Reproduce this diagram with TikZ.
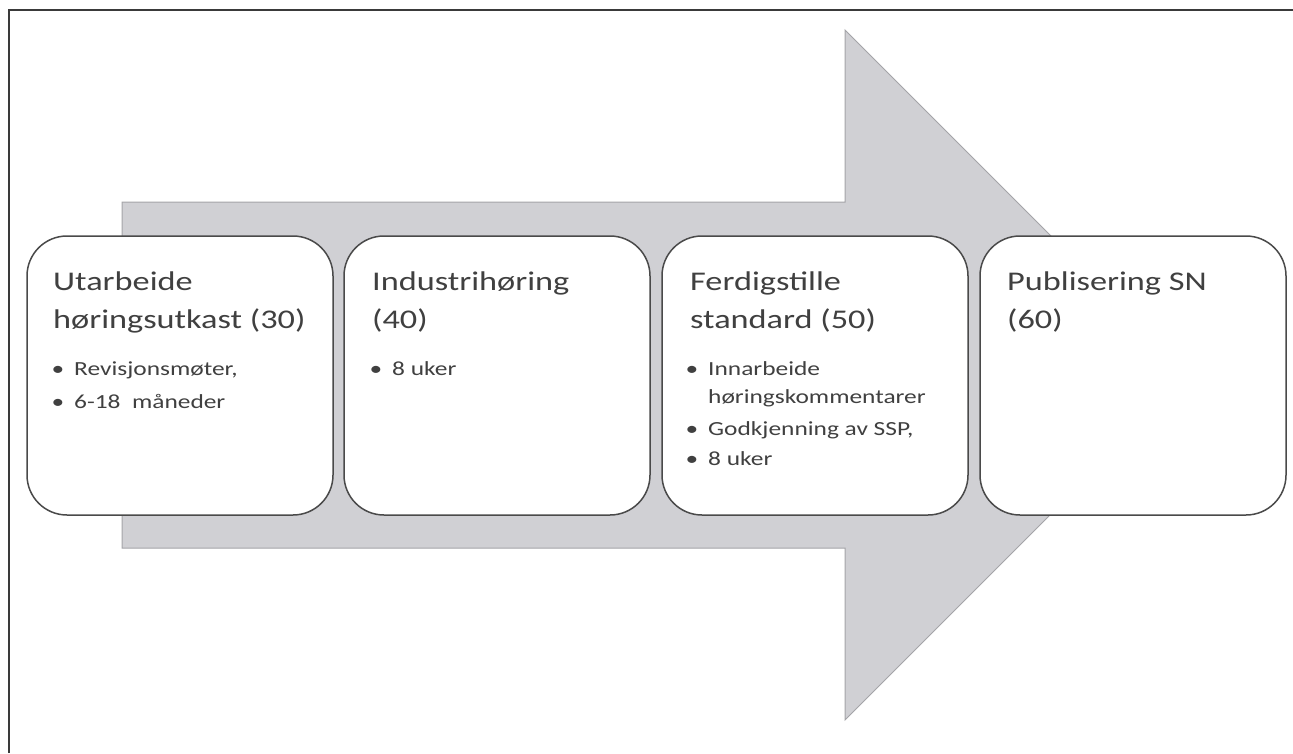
\documentclass[tikz,border=0pt]{standalone}
\usepackage{fontspec}
\setmainfont{Carlito}[FakeStretch=1.27]
\definecolor{ink}{HTML}{404040}
\definecolor{boxline}{HTML}{4A4A4A}
\definecolor{arrowfill}{HTML}{D0D0D4}
\definecolor{arrowline}{HTML}{A4A4A8}
\definecolor{framecol}{HTML}{3A3A3A}
\newcommand\itm{\llap{\raisebox{0pt}{•}\hspace{10pt}}}
\begin{document}
\begin{tikzpicture}[x=1pt,y=-1pt,
  stage/.style={draw=boxline,fill=white,line width=1.5pt,rounded corners=40pt,
    minimum width=306pt,minimum height=279pt,inner sep=0pt},
  head/.style={anchor=base west,inner sep=0pt,text=ink,font=\fontsize{27}{32}\selectfont},
  item/.style={anchor=base west,inner sep=0pt,text=ink,font=\fontsize{20}{24}\selectfont},
  frame/.style={draw=framecol,line width=2.5pt}]
\useasboundingbox (0,0) rectangle (1293,753);

% outer frame (top and left edges)
\draw[frame] (9,753) -- (9,10) -- (1293,10);

% big process arrow behind the stages
\filldraw[fill=arrowfill,draw=arrowline,line width=1pt]
  (122,202) -- (845,202) -- (845,30) -- (1190,375) -- (845,720)
  -- (845,548) -- (122,548) -- cycle;

% stage boxes
\node[stage] (s1) at (180,375.5) {};
\node[stage] (s2) at (497,375.5) {};
\node[stage] (s3) at (815,375.5) {};
\node[stage] (s4) at (1133,375.5) {};

% stage 1
\node[head] (h1a) at (53,290) {Utarbeide};
\node[head] (h1b) at (53,328) {høringsutkast (30)};
\node[item] (i1a) at (74,375) {\itm Revisjonsmøter,};
\node[item] (i1b) at (74,408) {\itm 6-18\ \ måneder};

% stage 2
\node[head] (h2a) at (372,290) {Industrihøring};
\node[head] (h2b) at (372,328) {(40)};
\node[item] (i2a) at (392,375) {\itm 8 uker};

% stage 3
\node[head] (h3a) at (690,290) {Ferdigstille};
\node[head] (h3b) at (690,328) {standard (50)};
\node[item] (i3a) at (708,375) {\itm Innarbeide};
\node[item] (i3b) at (708,403) {høringskommentarer};
\node[item] (i3c) at (708,435) {\itm Godkjenning av SSP,};
\node[item] (i3d) at (708,465) {\itm 8 uker};

% stage 4
\node[head] (h4a) at (1007,290) {Publisering SN};
\node[head] (h4b) at (1007,328) {(60)};
\end{tikzpicture}
\end{document}
